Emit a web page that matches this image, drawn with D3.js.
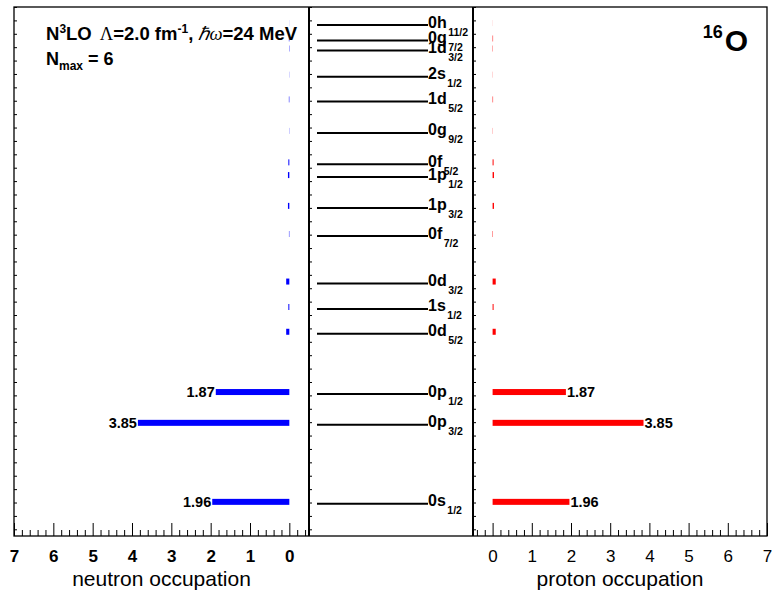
<!DOCTYPE html>
<html>
<head>
<meta charset="utf-8">
<script src="https://cdn.jsdelivr.net/npm/d3@7"></script>
<style>
  html, body { margin: 0; padding: 0; background: #fff; }
  svg { display: block; font-family: "Liberation Sans", Arial, Helvetica, sans-serif; }
</style>
</head>
<body>
<svg id="chart" width="773" height="592"></svg>
<script>
// Single-particle orbitals of 16O (label = orbital + j subscript)
const orbitals = ["0s", "0p", "0p", "0d", "1s", "0d", "0f", "1p", "1p", "0f", "0g", "1d", "2s", "1d", "0g", "0h"];
const jValues  = ["1/2", "3/2", "1/2", "5/2", "1/2", "3/2", "7/2", "3/2", "1/2", "5/2", "9/2", "5/2", "1/2", "3/2", "7/2", "11/2"];
// Single-particle energies (MeV)
const energies = [-46.2, -34.4, -29.8, -20.8, -17.1, -13.3, -6.2, -2.0, 2.6, 4.5, 9.2, 13.9, 17.6, 21.5, 23.0, 25.3];
// Occupation numbers
const neutronOcc = [1.96, 3.85, 1.87, 0.08, 0.025, 0.08, 0.01, 0.035, 0.035, 0.025, 0.005, 0.012, 0.004, 0.008, 0.012, 0.002];
const protonOcc  = [1.96, 3.85, 1.87, 0.08, 0.025, 0.08, 0.01, 0.035, 0.035, 0.025, 0.005, 0.012, 0.004, 0.008, 0.012, 0.002];
// Occupation axis ticks
const majorTicks = [0, 1, 2, 3, 4, 5, 6, 7];
const minorTicks = d3.range(-2, 36).map(i => i / 5);
const energyTicks = d3.range(-50, 29, 2);

const svg = d3.select("#chart");

// Panel geometry
const frameTop = 7, frameBottom = 536;
const nL = 14, nR = 309, pL = 473, pR = 767;

const yE = d3.scaleLinear().domain([-51, 28]).range([frameBottom, frameTop]);
const xN = d3.scaleLinear().domain([-0.5, 7]).range([nR, nL]);
const xP = d3.scaleLinear().domain([-0.5, 7]).range([pL, pR]);
const xLevel = d3.scaleLinear().domain([0, 1]).range([317, 428]);

const idx = d3.range(orbitals.length);
const barH = 6, barShift = -2;

// ----- frames -----
svg.append("rect").attr("x", nL).attr("y", frameTop).attr("width", pR - nL).attr("height", frameBottom - frameTop)
  .attr("fill", "none").attr("stroke", "#000").attr("stroke-width", 1.3);
svg.append("line").attr("x1", nR).attr("x2", nR).attr("y1", frameTop).attr("y2", frameBottom)
  .attr("stroke", "#000").attr("stroke-width", 2);
svg.append("line").attr("x1", pL).attr("x2", pL).attr("y1", frameTop).attr("y2", frameBottom)
  .attr("stroke", "#000").attr("stroke-width", 2);

// ----- energy-axis ticks on the left edge of each panel -----
[nL, nR, pL].forEach(x0 => {
  const g = svg.append("g").attr("transform", `translate(${x0},0)`);
  g.call(d3.axisRight(yE).tickValues(energyTicks).tickSize(3).tickFormat(""));
  g.select(".domain").remove();
  g.selectAll(".tick line").attr("stroke", "#000").attr("stroke-width", 1);
});

// ----- occupation axes -----
function occAxis(scale, bold) {
  const gMinor = svg.append("g").attr("transform", `translate(0,${frameBottom})`);
  gMinor.call(d3.axisBottom(scale).tickValues(minorTicks.filter(v => Math.abs(v - Math.round(v)) > 1e-6)).tickSize(-6).tickFormat(""));
  gMinor.select(".domain").remove();
  const gMajor = svg.append("g").attr("transform", `translate(0,${frameBottom})`);
  gMajor.call(d3.axisBottom(scale).tickValues(majorTicks).tickSize(-13).tickPadding(14).tickFormat(d3.format("d")));
  gMajor.select(".domain").remove();
  gMajor.selectAll(".tick text")
    .attr("font-family", "'Liberation Sans', Arial, sans-serif")
    .attr("font-size", 17)
    .attr("font-weight", bold ? "bold" : "normal")
    .attr("fill", "#000");
  svg.selectAll(".tick line").attr("stroke", "#000");
}
occAxis(xN, true);
occAxis(xP, false);

svg.append("text").attr("x", (nL + nR) / 2).attr("y", 586).attr("text-anchor", "middle")
  .attr("font-size", 21).text("neutron occupation");
svg.append("text").attr("x", (pL + pR) / 2).attr("y", 586).attr("text-anchor", "middle")
  .attr("font-size", 21).text("proton occupation");

// ----- level scheme -----
svg.append("g").selectAll("line").data(idx).join("line")
  .attr("x1", xLevel(0)).attr("x2", xLevel(1))
  .attr("y1", i => yE(energies[i])).attr("y2", i => yE(energies[i]))
  .attr("stroke", "#000").attr("stroke-width", 2);

const lab = svg.append("g").selectAll("text").data(idx).join("text")
  .attr("x", xLevel(1)).attr("y", i => yE(energies[i]) + 2.5)
  .attr("font-weight", "bold").attr("font-size", 16);
lab.append("tspan").text(i => orbitals[i]);
lab.append("tspan").attr("dx", 1.5).attr("dy", 8).attr("font-size", 10.5).text(i => jValues[i]);

// ----- occupation bars -----
svg.append("g").selectAll("rect").data(idx).join("rect")
  .attr("x", i => xN(neutronOcc[i])).attr("width", i => xN(0) - xN(neutronOcc[i]))
  .attr("y", i => yE(energies[i]) + barShift - barH / 2).attr("height", barH)
  .attr("fill", "#0000ff");
svg.append("g").selectAll("rect").data(idx).join("rect")
  .attr("x", xP(0)).attr("width", i => xP(protonOcc[i]) - xP(0))
  .attr("y", i => yE(energies[i]) + barShift - barH / 2).attr("height", barH)
  .attr("fill", "#ff0000");

const fmt = d3.format(".2f");
svg.append("g").selectAll("text").data(idx.filter(i => neutronOcc[i] > 1)).join("text")
  .attr("x", i => xN(neutronOcc[i]) - 1).attr("y", i => yE(energies[i]) + barShift + 5)
  .attr("text-anchor", "end").attr("font-weight", "bold").attr("font-size", 14.5)
  .text(i => fmt(neutronOcc[i]));
svg.append("g").selectAll("text").data(idx.filter(i => protonOcc[i] > 1)).join("text")
  .attr("x", i => xP(protonOcc[i]) + 1).attr("y", i => yE(energies[i]) + barShift + 5)
  .attr("font-weight", "bold").attr("font-size", 14.5)
  .text(i => fmt(protonOcc[i]));

// ----- annotations -----
const t1 = svg.append("text").attr("x", 46).attr("y", 40).attr("font-size", 18.5).attr("font-weight", "bold");
t1.append("tspan").text("N");
t1.append("tspan").attr("dy", -7).attr("font-size", 12).text("3");
t1.append("tspan").attr("dy", 7).text("LO");
t1.append("tspan").attr("dx", 8).attr("font-family", "'Liberation Serif', serif").attr("font-weight", "normal").text("Λ");
t1.append("tspan").text("=2.0 fm");
t1.append("tspan").attr("dy", -7).attr("font-size", 12).text("-1");
t1.append("tspan").attr("dy", 7).text(", ");
t1.append("tspan").attr("font-family", "'Liberation Serif', serif").attr("font-weight", "normal").attr("font-style", "italic").text("ℏω");
t1.append("tspan").text("=24 MeV");

const t2 = svg.append("text").attr("x", 46).attr("y", 65).attr("font-size", 18).attr("font-weight", "bold");
t2.append("tspan").text("N");
t2.append("tspan").attr("dy", 5).attr("font-size", 12).text("max");
t2.append("tspan").attr("dy", -5).text(" = 6");

const t3 = svg.append("text").attr("x", 748).attr("y", 51).attr("text-anchor", "end").attr("font-weight", "bold");
t3.append("tspan").attr("font-size", 18).attr("dy", -13).text("16");
t3.append("tspan").attr("font-size", 30).attr("dx", 2).attr("dy", 13).text("O");
</script>
</body>
</html>
